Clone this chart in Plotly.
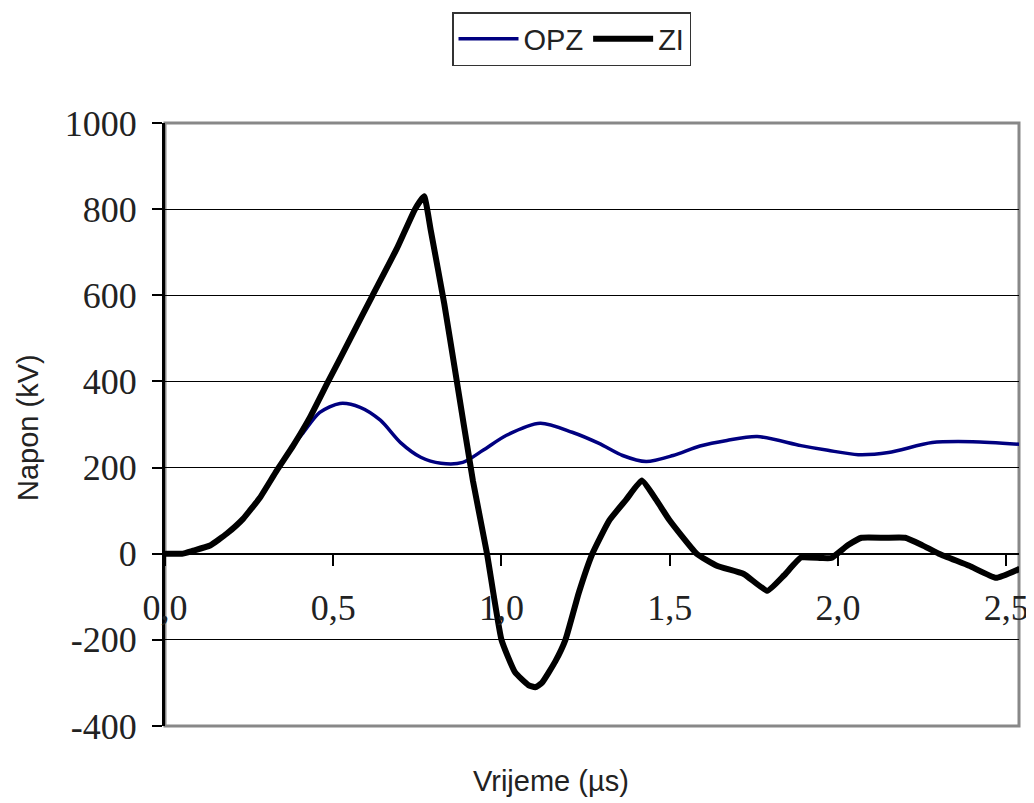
import plotly.graph_objects as go

# ZI (black) curve: time in µs, voltage in kV
zi_t = [0, 0.05, 0.083, 0.134, 0.184, 0.232, 0.282, 0.332, 0.381, 0.431, 0.485, 0.55,
        0.617, 0.69, 0.743, 0.77, 0.79, 0.83, 0.862, 0.915, 0.957, 1.0, 1.04, 1.08,
        1.10, 1.12, 1.16, 1.19, 1.23, 1.27, 1.32, 1.37, 1.417, 1.46, 1.5, 1.58, 1.64,
        1.72, 1.79, 1.84, 1.89, 1.95, 1.98, 2.03, 2.07, 2.14, 2.2, 2.25, 2.30, 2.39,
        2.47, 2.54]
zi_v = [0, 0, 7, 19, 47, 81, 130, 193, 251, 317, 400, 498,
        600, 710, 800, 830, 750, 580, 426, 170, 0, -200, -275, -305,
        -310, -300, -250, -200, -90, 0, 77, 125, 170, 125, 77, 0, -28,
        -47, -86, -50, -9, -10, -10, 20, 37, 37, 37, 20, 0, -28,
        -56, -35]

# OPZ (blue) curve
opz_t = [0, 0.05, 0.083, 0.134, 0.184, 0.232, 0.282, 0.332, 0.381, 0.41, 0.46, 0.52,
         0.58, 0.64, 0.70, 0.76, 0.82, 0.885, 0.945, 1.015, 1.115, 1.21, 1.29, 1.36,
         1.43, 1.51, 1.59, 1.67, 1.76, 1.89, 1.97, 2.06, 2.15, 2.28, 2.40, 2.54]
opz_v = [0, 0, 7, 19, 47, 81, 130, 193, 251, 280, 328, 349,
         340, 310, 258, 224, 210, 212, 240, 275, 303, 282, 256, 228,
         214, 228, 250, 263, 272, 251, 240, 230, 235, 258, 260, 254]

x_ticks = [0.0, 0.5, 1.0, 1.5, 2.0, 2.5]
x_ticktext = ["0,0", "0,5", "1,0", "1,5", "2,0", "2,5"]
y_ticks = [-400, -200, 0, 200, 400, 600, 800, 1000]
y_ticktext = ["-400", "-200", "0", "200", "400", "600", "800", "1000"]

fig = go.Figure()
fig.add_trace(go.Scatter(x=opz_t, y=opz_v, mode="lines", name="OPZ",
                         line=dict(color="#000080", width=3.5, shape="spline", smoothing=0.8)))
fig.add_trace(go.Scatter(x=zi_t, y=zi_v, mode="lines", name="ZI",
                         line=dict(color="black", width=6, shape="spline", smoothing=0.4)))

serif = "Liberation Serif"
sans = "Liberation Sans"

# page body has an 8px margin: figure is drawn 8px lower/right
W, H = 1026, 795
L, T, R, B = 157, 115, 15, 77
PW = W - L - R
PH = H - T - B

def px(xp):
    return (xp - 8 - L) / PW

def py(yp):
    return (H - B - (yp - 8)) / PH

fig.update_layout(
    width=W, height=H,
    margin=dict(l=L, r=R, t=T, b=B, autoexpand=False),
    paper_bgcolor="white", plot_bgcolor="white",
    showlegend=True,
    legend=dict(orientation="h", x=px(452), y=py(12), xanchor="left", yanchor="top",
                bordercolor="#333333", borderwidth=1.5,
                font=dict(family=sans, size=29, color="#222222"),
                itemwidth=60, tracegroupgap=0),
    xaxis=dict(range=[0, 2.538], tickvals=x_ticks, ticktext=x_ticktext,
               anchor="free", position=400 / 1400, automargin=False,
               showline=True, linecolor="black", linewidth=1.5,
               ticks="outside", ticklen=12, tickwidth=1.5, tickcolor="black",
               ticklabelstandoff=10,
               showgrid=False, zeroline=False,
               tickfont=dict(family=serif, size=36, color="#222222")),
    yaxis=dict(range=[-400, 1000], tickvals=y_ticks, ticktext=y_ticktext,
               automargin=False,
               showline=True, linecolor="black", linewidth=3,
               ticks="outside", ticklen=10, tickwidth=1.5, tickcolor="black",
               ticklabelstandoff=8,
               showgrid=True, gridcolor="black", gridwidth=1.2,
               zeroline=False,
               tickfont=dict(family=serif, size=36, color="#222222")),
    shapes=[
        dict(type="rect", xref="paper", yref="paper", x0=0, x1=1, y0=0, y1=1,
             line=dict(color="#888888", width=3), layer="below"),
    ],
    annotations=[
        dict(text="Napon (kV)", xref="paper", yref="paper",
             x=px(28), y=py(428), textangle=-90,
             showarrow=False, xanchor="center", yanchor="middle",
             font=dict(family=sans, size=29, color="#222222")),
        dict(text="Vrijeme (µs)", xref="paper", yref="paper",
             x=px(551), y=py(781),
             showarrow=False, xanchor="center", yanchor="middle",
             font=dict(family=sans, size=29, color="#222222")),
    ],
)

fig.write_html("out.html")
